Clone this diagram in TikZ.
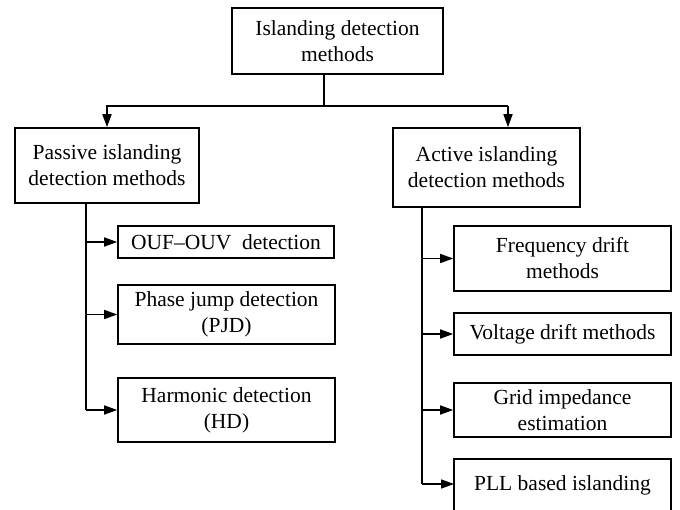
\documentclass[tikz,border=0pt]{standalone}
\usepackage{fontspec}
\setmainfont{Liberation Serif}
\usetikzlibrary{arrows.meta}
\begin{document}
\begin{tikzpicture}[x=1pt,y=-1pt,
  box/.style={draw, line width=1.6pt, rectangle, inner sep=0pt, align=center,
    font=\fontsize{21.5}{26}\selectfont},
  link/.style={line width=1.6pt},
  arr/.style={line width=1.6pt, -{Triangle[length=13pt,width=9pt]}}]
\useasboundingbox (0,0) rectangle (680,510);
\clip (0,0) rectangle (680,510);
% top level
\node[box, minimum width=211pt, minimum height=66pt] (top) at (337.5,41) {Islanding detection\\methods};
% two families
\node[box, minimum width=184pt, minimum height=75pt] (passive) at (107,165.5) {Passive islanding\\detection methods};
\node[box, minimum width=187pt, minimum height=79pt] (active) at (486.5,167.5) {Active islanding\\detection methods};
% passive methods
\node[box, minimum width=216pt, minimum height=32pt] (ouf) at (226,242) {OUF--OUV\ \ detection};
\node[box, minimum width=217pt, minimum height=59pt] (pjd) at (226.5,314.5) {Phase jump detection\\(PJD)};
\node[box, minimum width=217pt, minimum height=64pt] (hd) at (226.5,410) {Harmonic detection\\(HD)};
% active methods
\node[box, minimum width=217pt, minimum height=65pt] (freq) at (562.5,258.5) {Frequency drift\\methods};
\node[box, minimum width=217pt, minimum height=42pt] (volt) at (562.5,334) {Voltage drift methods};
\node[box, minimum width=217pt, minimum height=54pt] (grid) at (562.5,410) {Grid impedance\\estimation};
\node[box, minimum width=217pt, minimum height=53pt] (pll) at (562.5,485.5) {PLL based islanding};
% splitting from the top box
\coordinate (j) at (324,106);
\coordinate (jr) at (508,106);
\draw[link] (top.south -| j) -- (j) -- (jr);
\draw[arr] (j) -| (passive.north);
\draw[arr] (jr) -- (active.north -| jr);
% passive trunk
\coordinate (pt) at (86,0);
\draw[link] (passive.south -| pt) -- (pt |- hd.west);
\draw[arr] (pt |- ouf.west) -- (ouf.west);
\draw[arr] (pt |- pjd.west) -- (pjd.west);
\draw[arr] (pt |- hd.west) -- (hd.west);
% active trunk
\coordinate (at) at (422,0);
\coordinate (pllin) at (454,484);
\draw[link] (active.south -| at) -- (at |- pllin);
\draw[arr] (at |- freq.west) -- (freq.west);
\draw[arr] (at |- volt.west) -- (volt.west);
\draw[arr] (at |- grid.west) -- (grid.west);
\draw[arr] (at |- pllin) -- (pllin);
\end{tikzpicture}
\end{document}
